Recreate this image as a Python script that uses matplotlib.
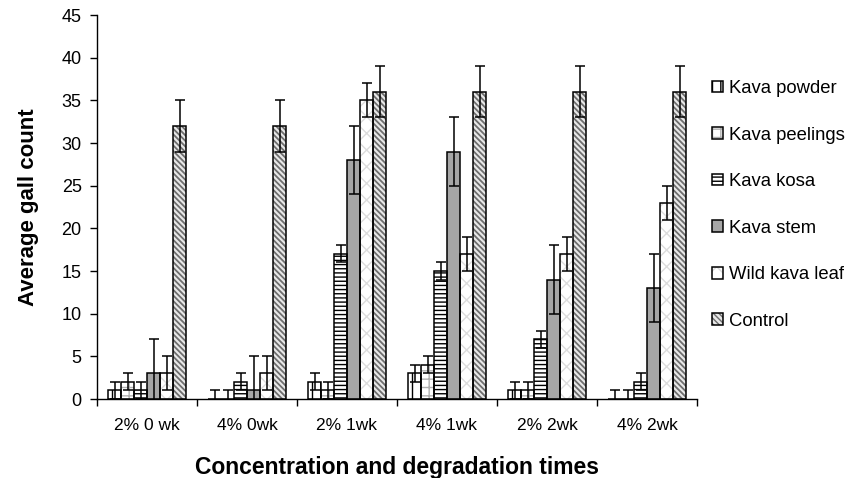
import matplotlib
matplotlib.use("Agg")
import matplotlib.pyplot as plt
import numpy as np
from matplotlib.patches import Patch

plt.rcParams['font.family'] = ['Liberation Sans', 'DejaVu Sans']
plt.rcParams['hatch.linewidth'] = 1.0

categories = ["2% 0 wk", "4% 0wk", "2% 1wk", "4% 1wk", "2% 2wk", "4% 2wk"]
series = ["Kava powder", "Kava peelings", "Kava kosa", "Kava stem", "Wild kava leaf", "Control"]

kava_powder = [1, 0, 2, 3, 1, 0]
kava_peelings = [2, 0, 1, 4, 1, 0]
kava_kosa = [1, 2, 17, 15, 7, 2]
kava_stem = [3, 1, 28, 29, 14, 13]
wild_kava_leaf = [3, 3, 35, 17, 17, 23]
control = [32, 32, 36, 36, 36, 36]

err_powder = [1, 1, 1, 1, 1, 1]
err_peelings = [1, 1, 1, 1, 1, 1]
err_kosa = [1, 1, 1, 1, 1, 1]
err_stem = [4, 4, 4, 4, 4, 4]
err_wild = [2, 2, 2, 2, 2, 2]
err_control = [3, 3, 3, 3, 3, 3]

values = [kava_powder, kava_peelings, kava_kosa, kava_stem, wild_kava_leaf, control]
errors = [err_powder, err_peelings, err_kosa, err_stem, err_wild, err_control]

# style per series: (facecolor, hatch, hatchcolor, hatch linewidth)
styles = [
    ("white", "||", "black", 1.0),
    ("white", "++", "#b0b0b0", 1.0),
    ("white", "----", "black", 1.0),
    ("#a6a6a6", None, None, 1.0),
    ("white", "xx", "#dcdcdc", 1.0),
    ("#e8e8e8", "\\\\\\\\\\\\", "#6e6e6e", 1.3),
]

fig = plt.figure(figsize=(8.52, 4.78), dpi=100)
ax = fig.add_axes([97/852, 1 - 399/478, 600/852, 384/478])

x = np.arange(len(categories))
w = 0.13
n = len(series)
handles = []
for i, (name, vals, errs, (fc, hatch, hc, hlw)) in enumerate(zip(series, values, errors, styles)):
    plt.rcParams['hatch.linewidth'] = hlw
    pos = x + (i - (n - 1) / 2) * w
    if hatch is not None:
        ax.bar(pos, vals, w, color=fc, hatch=hatch, edgecolor=hc, linewidth=0, zorder=2)
    else:
        ax.bar(pos, vals, w, color=fc, linewidth=0, zorder=2)
    ax.bar(pos, vals, w, fill=False, edgecolor="black", linewidth=1.1, zorder=3)
    ax.errorbar(pos, vals, yerr=errs, fmt="none", ecolor="black", elinewidth=1.1,
                capsize=3.8, capthick=1.1, zorder=4)
    hp = Patch(facecolor=fc, hatch=hatch, edgecolor=hc if hc else fc, linewidth=0)
    ho = Patch(facecolor="none", edgecolor="black", linewidth=1.1)
    handles.append((hp, ho))
plt.rcParams['hatch.linewidth'] = 1.0

ax.set_xlim(-0.5, len(categories) - 0.5)
ax.set_ylim(0, 45)
ax.set_yticks(np.arange(0, 46, 5))
ax.set_xticks(x)
ax.set_xticklabels(categories, fontsize=12.5)
ax.set_xticks(np.arange(-0.5, len(categories), 1.0), minor=True)
ax.tick_params(axis="x", which="major", length=0, pad=14)
ax.tick_params(axis="x", which="minor", length=5, width=1, direction="out")
ax.tick_params(axis="y", length=5, width=1, labelsize=13, pad=6)
for s in ["top", "right"]:
    ax.spines[s].set_visible(False)
for s in ["left", "bottom"]:
    ax.spines[s].set_linewidth(1.0)
    ax.spines[s].set_color("black")

ax.set_ylabel("Average gall count", fontsize=16, fontweight="bold", labelpad=16)
ax.set_xlabel("Concentration and degradation times", fontsize=16.5, fontweight="bold", labelpad=16)

leg = fig.legend(handles, series, loc="upper left", bbox_to_anchor=(712/852, 1 - 80/478),
                 frameon=False, fontsize=13.3, handlelength=0.6, handleheight=0.6,
                 handletextpad=0.3, labelspacing=1.6, borderpad=0, borderaxespad=0)

fig.savefig("out.png", dpi=100)
